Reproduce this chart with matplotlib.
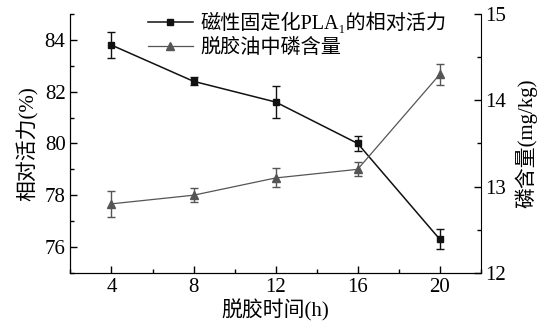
import matplotlib
matplotlib.use("Agg")
import matplotlib.pyplot as plt
from matplotlib.lines import Line2D
from matplotlib.ticker import MultipleLocator

plt.rcParams['font.family'] = ['Liberation Serif', 'Noto Sans CJK SC', 'DejaVu Sans']
plt.rcParams['font.size'] = 15

# degumming time (h)
hours = [4, 8, 12, 16, 20]
# relative activity of magnetic immobilized PLA1 (%)
activity = [83.8, 82.4, 81.6, 80.0, 76.3]
activity_err = [0.5, 0.15, 0.6, 0.28, 0.38]
# phosphorus content in degummed oil (mg/kg)
phosphorus = [12.8, 12.9, 13.1, 13.2, 14.3]
phosphorus_err = [0.15, 0.08, 0.11, 0.08, 0.12]
labels = ['磁性固定化PLA\u2081的相对活力', '脱胶油中磷含量']

c1 = '#111111'
c2 = '#555555'

fig, ax = plt.subplots(figsize=(5.42, 3.26), dpi=100)
fig.subplots_adjust(left=0.13, right=0.887, top=0.957, bottom=0.163)
ax2 = ax.twinx()

ax.errorbar(hours, activity, yerr=activity_err, color=c1, marker='s',
            markersize=5, lw=1.1, capsize=3, elinewidth=1, capthick=1)
ax2.errorbar(hours, phosphorus, yerr=phosphorus_err, color=c2, marker='^',
             markersize=6, lw=0.9, capsize=3, elinewidth=1, capthick=1)

ax.set_xlim(2, 22)
ax.set_ylim(75, 85)
ax2.set_ylim(12, 15)
ax.set_xticks(hours)
ax.xaxis.set_minor_locator(MultipleLocator(2))
ax.set_yticks([76, 78, 80, 82, 84])
ax.yaxis.set_minor_locator(MultipleLocator(1))
ax2.set_yticks([12, 13, 14, 15])
ax2.yaxis.set_minor_locator(MultipleLocator(0.5))

for a in (ax, ax2):
    a.tick_params(which='both', direction='in', width=1)
    a.tick_params(which='major', length=5)
    a.tick_params(which='minor', length=3)
    a.spines['top'].set_visible(False)
ax.spines['right'].set_visible(False)

ax.set_xlabel('脱胶时间(h)', labelpad=2)
ax.set_ylabel('相对活力(%)', labelpad=4)
ax2.set_ylabel('磷含量(mg/kg)', labelpad=6)

handles = [Line2D([], [], color=c1, marker='s', markersize=5, lw=1.1),
           Line2D([], [], color=c2, marker='^', markersize=6, lw=0.9)]
ax.legend(handles, labels, loc='upper left', fontsize=14.5,
          bbox_to_anchor=(0.17, 1.035), frameon=False, handlelength=2.2,
          handletextpad=0.4, labelspacing=0.2, borderaxespad=0)

fig.savefig('out.png', dpi=100)
